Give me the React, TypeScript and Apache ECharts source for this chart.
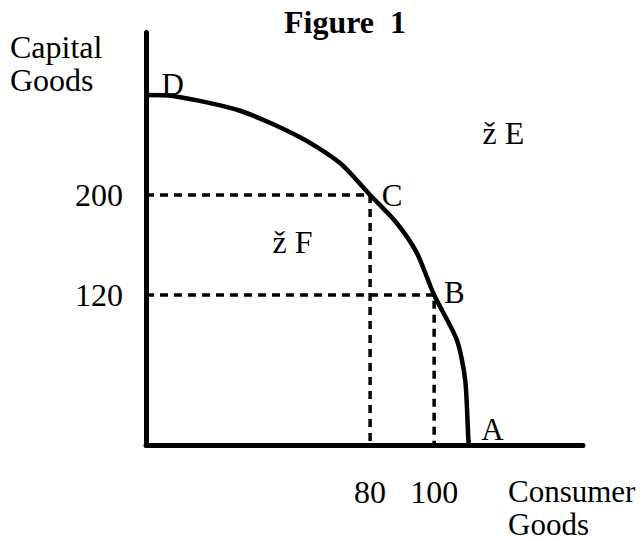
import React, { useEffect, useRef } from "react";
import * as echarts from "echarts";

const ppfX = [10, 18.4, 39.4, 58.1, 70.6, 80, 88.3, 94.6, 100, 107.1, 109.7, 110.7, 110.9];
const ppfY = [280, 279.2, 267.4, 246.2, 225.6, 200, 177.6, 153.6, 120, 84, 52, 4, 0];
const pointC = [80, 200];
const pointB = [100, 120];
const xTicks = [80, 100];
const yTicks = [120, 200];
const pointLabels = [
  { name: "D", x: 18.5, y: 288 },
  { name: "C", x: 87, y: 199.5 },
  { name: "B", x: 106.5, y: 121.5 },
  { name: "A", x: 118.4, y: 12 },
];
const markers = [
  { name: "ž E", x: 115.3, y: 249.6 },
  { name: "ž F", x: 49.7, y: 162.4 },
];

const FONT = "'Liberation Serif', 'Times New Roman', serif";

export default function App() {
  const ref = useRef<HTMLDivElement>(null);
  useEffect(() => {
    if (!ref.current) return;
    const chart = echarts.init(ref.current, undefined, { renderer: "svg" });
    const xMin = 10;
    const xMax = 146.5;
    const yMin = 0;
    const yMax = 330;
    const labelStyle = {
      show: true,
      position: [0, 0],
      verticalAlign: "middle",
      fontFamily: FONT,
      fontSize: 31,
      color: "#000",
      opacity: 1,
      textBorderWidth: 0,
    };
    const option: any = {
      animation: false,
      backgroundColor: "#ffffff",
      title: {
        text: "Figure  1",
        left: 340,
        top: 1,
        textAlign: "center",
        textStyle: { fontFamily: FONT, fontWeight: "bold", fontSize: 32, color: "#000" },
      },
      grid: { left: 146, right: 59, top: 32.5, bottom: 96, containLabel: false },
      xAxis: {
        type: "value",
        min: xMin,
        max: xMax,
        splitLine: { show: false },
        axisLine: { show: true, onZero: false, lineStyle: { color: "#000", width: 5 } },
        axisTick: { show: false },
        axisLabel: {
          show: true,
          customValues: xTicks,
          margin: 31,
          fontFamily: FONT,
          fontSize: 32,
          color: "#000",
        },
      },
      yAxis: {
        type: "value",
        min: yMin,
        max: yMax,
        splitLine: { show: false },
        axisLine: { show: true, onZero: false, lineStyle: { color: "#000", width: 5 } },
        axisTick: { show: false },
        axisLabel: {
          show: true,
          customValues: yTicks,
          margin: 23,
          fontFamily: FONT,
          fontSize: 32,
          color: "#000",
        },
      },
      series: [
        {
          type: "line",
          data: [[xMin, pointC[1]], pointC, [pointC[0], yMin]],
          symbol: "none",
          lineStyle: { color: "#000", width: 3.5, type: [8, 6] },
          silent: true,
        },
        {
          type: "line",
          data: [[xMin, pointB[1]], pointB, [pointB[0], yMin]],
          symbol: "none",
          lineStyle: { color: "#000", width: 3.5, type: [8, 6] },
          silent: true,
        },
        {
          type: "line",
          data: ppfX.map((x, i) => [x, ppfY[i]]),
          symbol: "none",
          smooth: 0.25,
          lineStyle: { color: "#000", width: 4.5 },
          silent: true,
        },
        {
          type: "scatter",
          data: pointLabels.map((p) => ({ value: [p.x, p.y], name: p.name })),
          symbolSize: 1,
          itemStyle: { color: "#fff", opacity: 1 },
          silent: true,
          label: { ...labelStyle, align: "center", formatter: (p: any) => p.name },
        },
        {
          type: "scatter",
          data: markers.map((p) => ({ value: [p.x, p.y], name: p.name })),
          symbolSize: 1,
          itemStyle: { color: "#fff", opacity: 1 },
          silent: true,
          label: { ...labelStyle, fontSize: 32, align: "left", formatter: (p: any) => p.name },
        },
      ],
      graphic: [
        {
          type: "text",
          left: 10,
          top: 30,
          style: {
            text: "Capital\nGoods",
            font: `32px ${FONT}`,
            lineHeight: 33,
            fill: "#000",
          },
        },
        {
          type: "text",
          left: 508,
          top: 475,
          style: {
            text: "Consumer\nGoods",
            font: `31px ${FONT}`,
            lineHeight: 33,
            fill: "#000",
          },
        },
      ],
    };
    chart.setOption(option);
    return () => chart.dispose();
  }, []);
  return (
    <div
      ref={ref}
      style={{ position: "fixed", left: 0, top: 0, width: 642, height: 541, background: "#fff" }}
    />
  );
}
